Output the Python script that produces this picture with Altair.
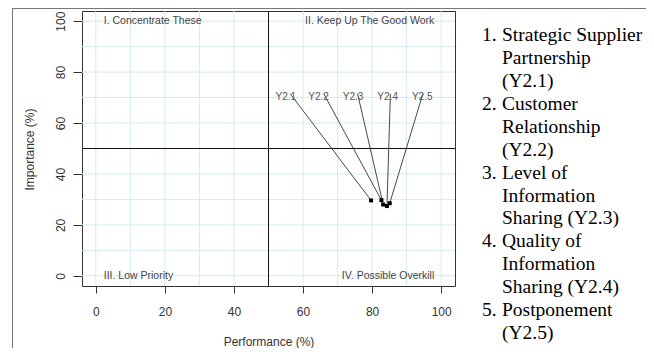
import altair as alt
import pandas as pd

# ---- data ----
codes = ["Y2.1", "Y2.2", "Y2.3", "Y2.4", "Y2.5"]
performance = [79.7, 82.7, 83.2, 84.3, 85.1]
importance = [29.6, 29.7, 28.0, 27.4, 28.5]
label_x = [55.0, 64.5, 74.5, 84.5, 94.5]
label_y = [70.3, 70.3, 70.3, 70.3, 70.3]
line_end_x = [56.3, 66.0, 75.8, 85.3, 94.7]
line_end_y = [71.5, 71.5, 71.5, 71.5, 71.5]

grid_vals = [0, 10, 20, 30, 40, 50, 60, 70, 80, 90, 100]
tick_vals = [0, 20, 40, 60, 80, 100]
cut_value = [50]

quad_left_text = ["I. Concentrate These", "III. Low Priority"]
quad_left_x = [2.3, 2.3]
quad_left_y = [100, 0]
quad_right_text = ["II. Keep Up The Good Work", "IV. Possible Overkill"]
quad_right_x = [98, 98]
quad_right_y = [100, 0]

legend_nums = ["1.", "", "", "2.", "", "", "3.", "", "", "4.", "", "", "5.", ""]
legend_lines = ["Strategic Supplier", "Partnership", "(Y2.1)",
                "Customer", "Relationship", "(Y2.2)",
                "Level of", "Information", "Sharing (Y2.3)",
                "Quality of", "Information", "Sharing (Y2.4)",
                "Postponement", "(Y2.5)"]

# ---- tables ----
pts = pd.DataFrame({"code": codes, "perf": performance, "imp": importance,
                    "lx": label_x, "ly": label_y, "ex": line_end_x, "ey": line_end_y})
grid = pd.DataFrame({"v": grid_vals})
cut = pd.DataFrame({"v": cut_value})
qleft = pd.DataFrame({"t": quad_left_text, "x": quad_left_x, "y": quad_left_y})
qright = pd.DataFrame({"t": quad_right_text, "x": quad_right_x, "y": quad_right_y})
legend = pd.DataFrame({"num": legend_nums, "line": legend_lines,
                       "i": list(range(len(legend_lines)))})

FONT = "Liberation Sans"
GREY = "#333333"

xscale = alt.Scale(domain=[-4, 104], nice=False, zero=False)
yscale = alt.Scale(domain=[-4, 104], nice=False, zero=False)
xaxis = alt.Axis(values=tick_vals, grid=False, domain=False, tickSize=7,
                 tickColor=GREY, labelColor=GREY, labelFont=FONT, labelFontSize=12,
                 labelPadding=13, title="Performance (%)", titleFont=FONT,
                 titleFontSize=12, titleFontWeight="normal", titleColor=GREY,
                 titleY=59, titleBaseline="alphabetic")
yaxis = alt.Axis(values=tick_vals, grid=False, domain=False, tickSize=9,
                 tickColor=GREY, labelColor=GREY, labelFont=FONT, labelFontSize=12,
                 labelAngle=270, labelPadding=5.5, title="Importance (%)",
                 titleFont=FONT, titleFontSize=12, titleFontWeight="normal",
                 titleColor=GREY, titleAngle=270, titleX=-53, titleY=138,
                 titleBaseline="middle")


def X(f):
    return alt.X(f, type="quantitative", scale=xscale, axis=xaxis)


def Y(f):
    return alt.Y(f, type="quantitative", scale=yscale, axis=yaxis)


grid_v = alt.Chart(grid).mark_rule(color="#d4ecee", strokeWidth=1).encode(x=X("v"))
grid_h = alt.Chart(grid).mark_rule(color="#d4ecee", strokeWidth=1).encode(y=Y("v"))
cut_v = alt.Chart(cut).mark_rule(color="#111111", strokeWidth=1).encode(x=X("v"))
cut_h = alt.Chart(cut).mark_rule(color="#111111", strokeWidth=1).encode(y=Y("v"))

segs = alt.Chart(pts).mark_rule(color="#333333", strokeWidth=0.9).encode(
    x=X("perf"), y=Y("imp"), x2="ex", y2="ey")
dots = alt.Chart(pts).mark_square(color="black", size=16, opacity=1).encode(
    x=X("perf"), y=Y("imp"))
code_lbl = alt.Chart(pts).mark_text(font=FONT, fontSize=10, color="#555555",
                                    baseline="middle", align="center").encode(
    x=X("lx"), y=Y("ly"), text="code")

ql = alt.Chart(qleft).mark_text(font=FONT, fontSize=10.5, color="#444444",
                                align="left", baseline="middle").encode(
    x=X("x"), y=Y("y"), text="t")
qr = alt.Chart(qright).mark_text(font=FONT, fontSize=10.5, color="#444444",
                                 align="right", baseline="middle").encode(
    x=X("x"), y=Y("y"), text="t")

LEG_FONT = "Liberation Serif"
leg_num = alt.Chart(legend).transform_calculate(py="30.2 + 22.9 * datum.i").mark_text(
    font=LEG_FONT, fontSize=19.5, color="black", align="left", baseline="alphabetic").encode(
    x=alt.value(400), y=alt.Y("py:Q", scale=None, axis=None), text="num")
leg_txt = alt.Chart(legend).transform_calculate(py="30.2 + 22.9 * datum.i").mark_text(
    font=LEG_FONT, fontSize=19.5, color="black", align="left", baseline="alphabetic").encode(
    x=alt.value(420), y=alt.Y("py:Q", scale=None, axis=None), text="line")

border_left = alt.Chart(grid).mark_rule(color="#777777", strokeWidth=1).encode(
    x=alt.value(-69.5), y=alt.value(-2.5), y2=alt.value(337))
border_top = alt.Chart(grid).mark_rule(color="#777777", strokeWidth=1).encode(
    x=alt.value(-69.5), x2=alt.value(564), y=alt.value(-2.5))

chart = alt.layer(
    grid_v, grid_h, cut_v, cut_h, segs, dots, code_lbl, ql, qr,
    leg_num, leg_txt, border_left, border_top
).properties(
    width=373, height=275,
    autosize=alt.AutoSizeParams(type="none"),
    padding={"left": 74, "top": 3, "right": 191, "bottom": 62},
    background="white",
).configure_view(stroke="#333333", strokeWidth=1)

chart.save("out.html", embed_options={"renderer": "svg", "actions": False})
